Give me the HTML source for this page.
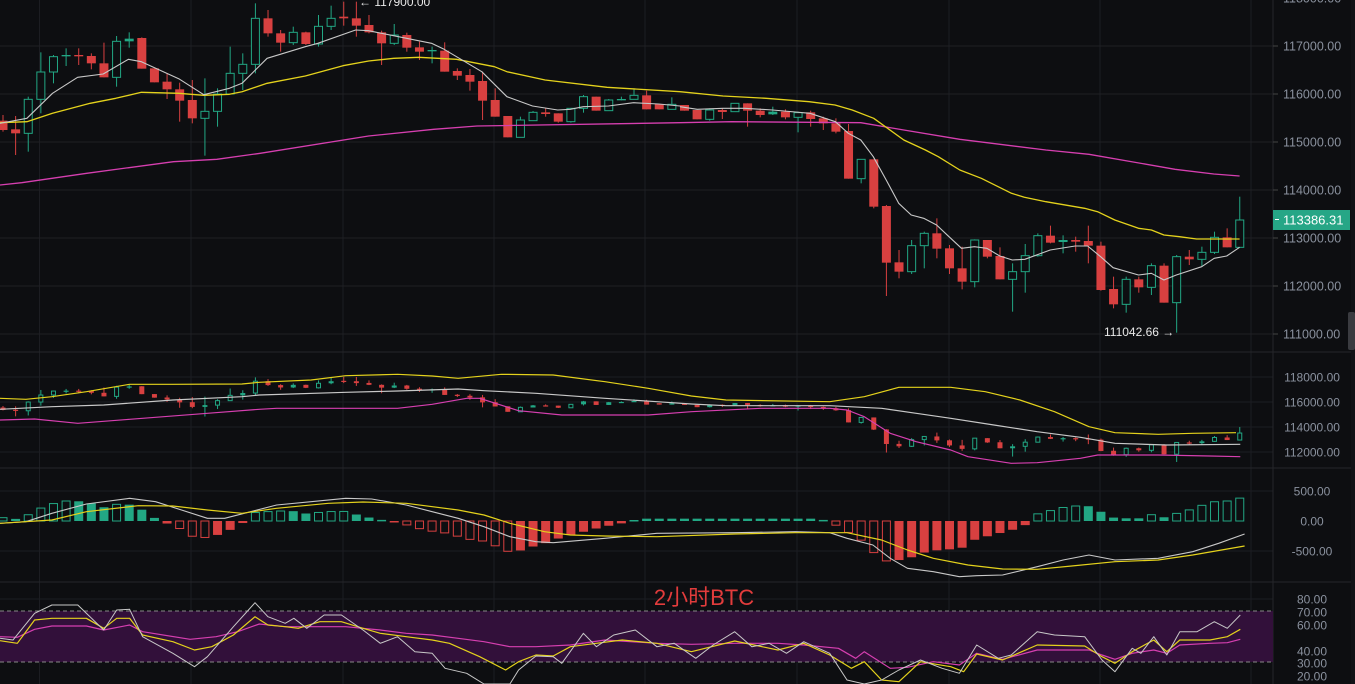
<!DOCTYPE html>
<html><head><meta charset="utf-8">
<style>
html,body{margin:0;padding:0;background:#0d0e11;overflow:hidden}
svg{display:block}
text{font-family:"Liberation Sans","Noto Sans CJK SC",sans-serif}
</style></head>
<body>
<svg id="s" width="1355" height="684" xmlns="http://www.w3.org/2000/svg"></svg>
<script>
const S=document.getElementById('s');
let h='';
const G='#22a784',R='#d84040';
h+='<rect width="1355" height="684" fill="#0d0e11"/>';
// vertical grid
[39.5,191,343,494,645,797,949,1100,1251].forEach(x=>{h+=`<line x1="${x}" y1="0" x2="${x}" y2="684" stroke="#1c1d22" stroke-width="1"/>`;});
// main pane horizontal grid
[46,94,142,190,238,286,334].forEach(y=>{h+=`<line x1="0" y1="${y}" x2="1273" y2="${y}" stroke="#1f2024"/>`;});
// pane separators
[352,468,582].forEach(y=>{h+=`<line x1="0" y1="${y}" x2="1355" y2="${y}" stroke="#25262b"/>`;});
[377,402,427,452,491,551,599,652].forEach(y=>{h+=`<line x1="0" y1="${y}" x2="1273" y2="${y}" stroke="#1c1d22"/>`;});
h+='<line x1="1273" y1="0" x2="1273" y2="684" stroke="#25262b"/>';
h+='<rect x="1351" y="0" width="4" height="684" fill="#111216"/>';
// RSI band
h+='<rect x="0" y="611" width="1273" height="51" fill="#32103a"/>';
h+='<line x1="0" y1="611" x2="1273" y2="611" stroke="#888" stroke-dasharray="4,3"/><line x1="0" y1="662" x2="1273" y2="662" stroke="#888" stroke-dasharray="4,3"/>';

// candles [bodyTop,bodyBot,wickTop,wickBot,green?] in zoom coords (y/3)
const C1=[[362,390,345,395,0],[388,400,348,465,0],[298,400,290,455,1],[216,298,157,340,1],[170,216,165,250,1],[165,169,145,198,1],[165,169,145,195,0],[168,190,160,208,0],[190,232,128,232,0],[124,232,108,260,1],[116,124,97,143,1],[114,206,112,206,0],[205,247,205,247,0],[245,268,220,297,0],[268,302,248,365,0],[300,355,240,370,0],[334,355,235,467,1],[282,334,265,380,1],[220,282,140,282,1],[193,220,160,270,1],[55,193,10,220,1],[55,100,30,110,0],[100,128,90,155,0],[97,128,80,135,1],[97,132,95,135,0],[79,132,45,140,1],[55,79,17,90,1],[50,55,5,77,0],[55,77,5,110,0],[75,97,45,100,0],[97,130,92,195,0],[105,130,72,135,1],[105,143,98,155,0],[142,155,125,180,0],[150,154,140,190,1],[152,215,127,215,0],[213,227,205,240,0],[225,245,207,272,0],[243,302,215,360,0],[300,350,265,350,0],[348,412,348,412,0],[360,412,350,412,1],[337,362,333,362,1],[337,342,325,350,0],[340,365,340,368,0],[325,365,325,368,1],[290,325,285,338,1],[290,332,290,332,0],[300,332,297,332,1],[297,301,290,301,1],[286,298,265,298,1],[286,328,272,328,0],[312,328,312,328,0],[313,328,292,328,1],
[315,332,315,332,0],[330,358,330,358,0],[330,358,325,362,1],[330,336,325,357,0],[310,335,310,335,1],[310,332,310,380,0],[332,345,325,352,0],[335,343,320,345,1],[335,352,328,358,0],[338,352,335,397,1],[337,357,332,380,0],[355,370,350,390,0],[370,395,355,400,0],[393,536,372,536,0],[478,536,478,550,1],[478,620,478,625,0],[618,788,615,888,0],[787,815,750,835,0],[737,815,720,822,1],[700,737,695,805,1],[700,746,655,775,0],[745,805,735,822,0],[805,845,740,868,0],[720,845,718,862,1],[720,770,720,775,0],[768,838,742,838,0],[815,838,790,935,1],[767,815,732,878,1],[707,767,700,770,1],[707,728,677,730,0],[720,726,706,760,1],[720,725,710,755,0],[723,737,677,790,0],[737,870,725,872,0],[867,913,830,925,0],[838,913,830,938,1],[838,862,830,878,0],[797,862,790,885,1],[797,908,790,908,0],[770,908,765,998,1],[770,778,750,795,0],[757,778,740,798,1],[712,757,695,762,1],[712,742,685,742,0],[660,742,590,742,1]];
const N=C1.length;
const cx=i=>3+i*12.62;
const P=y=>117000-(y/3-46)/0.048;
function candles(map,w){
 let s='';
 C1.forEach((c,i)=>{
  const x=cx(i);const col=c[4]?G:R;
  let t=map(c[0]),b=map(c[1]),wt=map(c[2]),wb=map(c[3]);
  if(b-t<1.2)b=t+1.2;
  s+=`<line x1="${x}" y1="${wt}" x2="${x}" y2="${wb}" stroke="${col}" stroke-width="1"/>`;
  if(c[4]&&w>3&&b-t>3) s+=`<rect x="${x-w/2+0.5}" y="${t}" width="${w-1}" height="${b-t}" fill="#0d0e11" stroke="${col}" stroke-width="1"/>`;
  else s+=`<rect x="${x-w/2}" y="${t}" width="${w}" height="${b-t}" fill="${col}"/>`;
 });
 return s;
}
h+=candles(y=>y/3,9);
function pl(pts,sx,ox,sy,oy,col,w){
 return `<polyline fill="none" stroke="${col}" stroke-width="${w||1.2}" stroke-linejoin="round" points="${pts.map(p=>((p[0]/sx+ox).toFixed(1)+','+(p[1]/sy+oy).toFixed(1))).join(' ')}"/>`;
}
// MAs main
const wA=[[0,370],[62,355],[121,280],[179,232],[238,222],[296,178],[326,185],[412,236],[470,284],[529,265],[558,250],[616,175],[704,140],[733,130],[820,90],[850,92],[995,130],[1024,148],[1111,215],[1169,290],[1228,318],[1286,330],[1315,328],[1345,320],[1403,318],[1461,308],[1519,312],[1568,318]];
const wB=[[0,320],[40,328],[100,325],[150,325],[215,330],[302,340],[361,365],[391,400],[420,420],[449,470],[479,540],[508,610],[537,645],[566,655],[596,675],[625,710],[654,745],[684,740],[713,745],[743,768],[772,780],[801,778],[860,750],[918,738],[947,738],[977,770],[1006,803],[1065,825],[1095,820],[1124,840],[1153,825],[1212,800],[1241,775],[1270,768],[1300,742]];
const yA=[[0,368],[62,365],[121,340],[208,310],[267,295],[326,277],[412,280],[470,286],[529,283],[558,275],[616,250],[704,228],[791,197],[850,183],[908,175],[966,172],[1053,178],[1140,200],[1169,215],[1257,240],[1400,262],[1568,275]];
const yB=[[0,275],[100,288],[200,295],[300,305],[360,315],[400,330],[450,355],[520,420],[570,450],[600,470],[650,510],[700,535],[770,580],[800,592],[850,605],[940,625],[970,635],[1010,660],[1065,685],[1095,690],[1124,705],[1160,710],[1200,717],[1300,717]];
const mA=[[0,555],[50,548],[200,520],[400,485],[500,478],[600,460],[850,408],[1000,388],[1100,378],[1568,368]];
const mB=[[0,368],[120,365],[420,368],[520,390],[650,418],[850,450],[950,463],[1150,508],[1240,522],[1300,528]];
h+=pl(mA,2.306,0,3,0,'#d63fb0',1.3)+pl(mB,2.323,680,3,0,'#d63fb0',1.3);
h+=pl(yA,2.306,0,3,0,'#e4d21c',1.3)+pl(yB,2.323,680,3,0,'#e4d21c',1.3);
h+=pl(wA,2.306,0,3,0,'#c8c8c8',1.1)+pl(wB,2.323,680,3,0,'#c8c8c8',1.1);

// BB pane candles
const bbY=y=>376+(118000-P(y))*0.01233;
h+=candles(bbY,5);
const bbU=[[0,145],[30,148],[60,140],[100,125],[150,103],[200,103],[280,102],[300,97],[360,90],[400,77],[460,73],[500,78],[530,85],[580,73],[640,75],[700,95],[750,115],[800,138],[840,150],[960,155],[1000,140],[1040,112],[1100,112],[1140,125],[1180,150],[1220,185],[1260,230],[1290,248],[1340,253],[1380,250],[1430,248]];
const bbM=[[0,178],[60,170],[120,165],[200,150],[280,140],[300,135],[400,127],[460,123],[530,117],[560,122],[620,130],[700,145],[760,155],[800,162],[840,167],[960,167],[1020,175],[1060,190],[1100,205],[1150,225],[1200,245],[1250,262],[1290,280],[1350,285],[1435,283]];
const bbL=[[0,210],[40,207],[90,220],[150,208],[240,190],[300,178],[320,175],[460,175],[500,163],[540,145],[555,145],[600,182],[650,195],[750,195],[800,185],[880,175],[960,175],[980,180],[1000,200],[1030,250],[1060,275],[1100,300],[1120,320],[1170,340],[1200,338],[1250,325],[1270,315],[1340,315],[1400,318],[1435,320]];
h+=pl(bbU,1.157,0,3,350,'#e4d21c',1.2)+pl(bbM,1.157,0,3,350,'#c8c8c8',1.2)+pl(bbL,1.157,0,3,350,'#d63fb0',1.2);

// MACD hist
const hv=[[5,10],[25,5],[45,35],[60,50],[75,60],[90,60],[105,55],[120,40],[135,50],[150,50],[165,35],[178,12],[192,-5],[208,-20],[222,-45],[237,-50],[250,-45],[265,-30],[280,-12],[295,25],[310,28],[325,30],[340,30],[353,22],[367,25],[382,28],[397,30],[410,22],[425,12],[440,5],[455,-3],[470,-10],[485,-22],[500,-30],[515,-35],[530,-45],[545,-55],[560,-60],[575,-75],[590,-92],[605,-88],[620,-75],[635,-65],[650,-50],[665,-40],[680,-30],[695,-20],[710,-12],[725,-5],[740,7],[950,7],[965,-7],[980,-30],[995,-50],[1010,-90],[1025,-120],[1040,-118],[1055,-110],[1070,-95],[1085,-88],[1100,-85],[1115,-80],[1130,-55],[1145,-45],[1160,-35],[1175,-25],[1190,-10],[1200,20],[1215,30],[1230,40],[1245,45],[1260,45],[1275,28],[1290,10],[1305,8],[1320,8],[1335,20],[1350,10],[1365,25],[1380,35],[1395,50],[1410,60],[1425,60],[1440,72]];
function interp(a,x){for(let k=0;k<a.length-1;k++){if(x<=a[k+1][0]){const t=(x-a[k][0])/(a[k+1][0]-a[k][0]);return a[k][1]+t*(a[k+1][1]-a[k][1]);}}return a[a.length-1][1];}
let prev=0;
for(let i=0;i<N;i++){
 const zx=5+i*14.6;const v=Math.max(-125,interp(hv,Math.max(5,zx)))/3;
 const x=cx(i);const col=v>=0?G:R;
 const grow=Math.abs(v)>=Math.abs(prev);
 const y0=521,y1=521-v;const t=Math.min(y0,y1),hh=Math.max(1.5,Math.abs(v));
 if(grow&&hh>3) h+=`<rect x="${x-4}" y="${t}" width="8" height="${hh}" fill="none" stroke="${col}" stroke-width="1"/>`;
 else h+=`<rect x="${x-4.5}" y="${t}" width="9" height="${hh}" fill="${col}"/>`;
 prev=v;
}
const mW=[[0,520],[30,515],[60,490],[100,462],[150,445],[180,455],[210,480],[240,505],[260,505],[290,485],[320,465],[360,455],[400,445],[430,447],[470,465],[500,485],[530,505],[560,530],[590,560],[620,575],[640,578],[700,565],[760,550],[850,548],[920,545],[960,548],[980,565],[1010,585],[1030,625],[1050,655],[1080,665],[1110,680],[1130,677],[1160,675],[1200,650],[1230,630],[1260,615],[1290,630],[1340,625],[1380,605],[1410,580],[1440,552]];
const mY=[[0,520],[60,510],[100,485],[160,467],[200,468],[240,480],[280,490],[320,475],[380,460],[420,456],[470,460],[530,480],[560,495],[590,520],[630,545],[660,555],[700,558],[760,560],[850,552],[920,548],[980,548],[1020,570],[1050,600],[1080,625],[1120,645],[1160,657],[1200,658],[1240,648],[1290,635],[1340,630],[1380,615],[1440,588]];
h+=pl(mW,1.157,0,3,350,'#c8c8c8',1.1)+pl(mY,1.157,0,3,350,'#e4d21c',1.2);

// RSI
const rW=[[0,865],[15,870],[40,790],[60,765],[90,765],[120,840],[135,780],[150,778],[165,860],[200,910],[225,950],[240,920],[270,830],[295,758],[310,800],[330,820],[340,805],[355,835],[375,795],[395,795],[420,840],[440,880],[460,860],[480,905],[500,910],[515,955],[540,970],[560,1002],[590,1002],[600,960],[620,918],[640,920],[650,940],[675,850],[690,890],[710,855],[735,840],[760,890],[780,880],[805,925],[825,885],[850,845],[870,890],[890,880],[910,910],[930,875],[960,910],[980,990],[1000,1002],[1020,990],[1040,960],[1065,930],[1090,955],[1110,970],[1130,885],[1155,925],[1170,915],[1200,845],[1220,855],[1255,860],[1275,930],[1290,965],[1310,895],[1320,910],[1335,860],[1350,915],[1365,845],[1385,845],[1405,815],[1420,835],[1435,795]];
const rY=[[0,872],[20,880],[40,810],[60,805],[100,805],[120,835],[135,805],[150,805],[165,855],[200,875],[225,900],[245,890],[270,855],[295,800],[310,825],[330,830],[345,835],[370,815],[395,815],[420,835],[440,850],[470,860],[500,870],[520,880],[555,920],[585,960],[600,935],[620,915],[640,918],[660,890],[690,880],[720,870],[760,880],[800,905],[850,873],[900,900],[930,880],[960,915],[985,955],[1000,935],[1020,990],[1040,995],[1065,935],[1100,950],[1115,965],[1130,912],[1160,930],[1200,885],[1255,888],[1275,920],[1290,940],[1310,905],[1335,870],[1350,905],[1365,870],[1400,870],[1420,860],[1435,838]];
const rM=[[0,860],[20,862],[40,838],[60,828],[100,828],[120,840],[150,825],[165,845],[220,868],[250,860],[275,845],[300,822],[330,830],[360,830],[400,830],[440,840],[470,850],[500,855],[530,865],[560,875],[590,890],[620,890],[660,885],[700,870],[760,880],[800,883],[850,880],[900,880],[930,885],[970,895],[990,925],[1000,905],[1030,955],[1050,952],[1080,935],[1110,945],[1130,910],[1160,928],[1200,900],[1260,900],[1275,915],[1290,928],[1310,910],[1335,900],[1350,910],[1365,885],[1400,880],[1420,878],[1435,868]];
h+=pl(rM,1.157,0,3,350,'#d63fb0',1.2)+pl(rY,1.157,0,3,350,'#e4d21c',1.2)+pl(rW,1.157,0,3,350,'#c8c8c8',1);

// axis labels
const lc='#8a919e';
[[118000,-2],[117000,46],[116000,94],[115000,142],[114000,190],[113000,238],[112000,286],[111000,334]].forEach(a=>{h+=`<line x1="1273" y1="${a[1]}" x2="1278" y2="${a[1]}" stroke="#444"/><text x="1283" y="${a[1]+4.5}" font-size="12.5" fill="${lc}">${a[0]}.00</text>`;});
[['118000.00',377],['116000.00',402],['114000.00',427],['112000.00',452],['500.00',491],['0.00',521],['-500.00',551],['80.00',599],['70.00',612],['60.00',625],['40.00',651],['30.00',663],['20.00',676]].forEach(a=>{h+=`<text x="1312" y="${a[1]+4.5}" font-size="12" fill="${lc}" text-anchor="middle">${a[0]}</text>`;});
// price tag
h+='<rect x="1273" y="210" width="77" height="20" fill="#26a686"/><line x1="1275" y1="219.5" x2="1279" y2="219.5" stroke="#fff"/><text x="1283" y="224.5" font-size="13" fill="#fff">113386.31</text>';
h+='<text x="359" y="6" font-size="12" fill="#e8e8e8">← 117900.00</text>';
h+='<text x="1104" y="336" font-size="12" fill="#e8e8e8">111042.66 →</text>';
h+='<text x="704" y="605" font-size="22" fill="#e23c3c" text-anchor="middle">2小时BTC</text>';
h+='<rect x="1348" y="312" width="7" height="38" rx="2" fill="#3a3b40"/>';
S.innerHTML=h;
</script>
</body></html>
